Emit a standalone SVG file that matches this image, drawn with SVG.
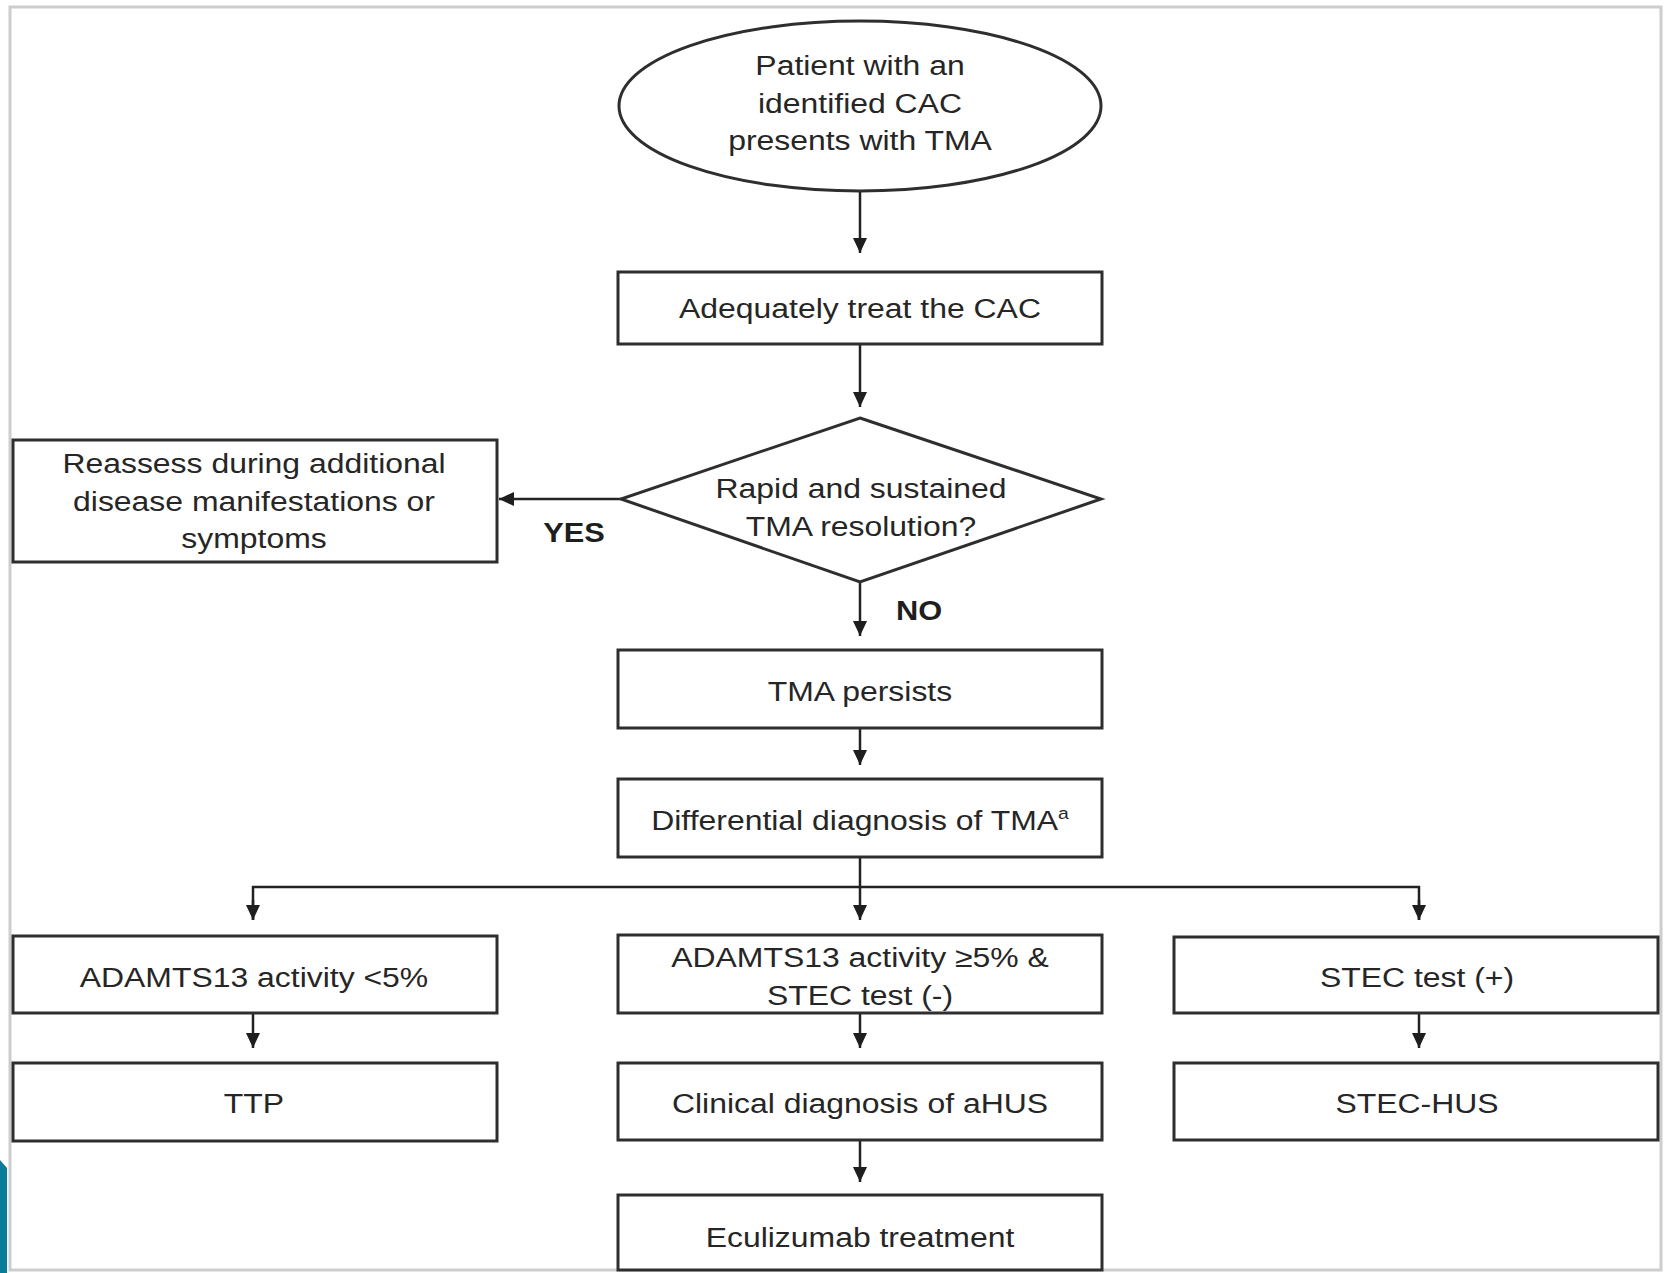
<svg xmlns="http://www.w3.org/2000/svg" width="1668" height="1273" viewBox="0 0 1668 1273">
<defs>
<style>
.box{fill:#fff;stroke:#2e2e2e;stroke-width:3}
.t{font-family:"Liberation Sans",Arial,sans-serif;font-size:28px;fill:#262626;text-anchor:middle}
.lbl{font-family:"Liberation Sans",Arial,sans-serif;font-size:27px;font-weight:bold;fill:#1e1e1e;text-anchor:middle}
.ln{fill:none;stroke:#222;stroke-width:2.5}
</style>
<marker id="ah" markerUnits="userSpaceOnUse" markerWidth="15" markerHeight="14" viewBox="0 0 15 14" refX="15" refY="7" orient="auto">
<path d="M0,0 L15,7 L0,14 z" fill="#1e1e1e"/>
</marker>
</defs>
<rect x="0" y="0" width="1668" height="1273" fill="#fff"/>
<rect x="10" y="7" width="1651" height="1263" fill="none" stroke="#cdcdcd" stroke-width="3"/>
<polygon points="0,1160 7,1168 7,1273 0,1273" fill="#0b7d99"/>

<g id="connectors">
<line class="ln" x1="860" y1="192" x2="860" y2="253" marker-end="url(#ah)"/>
<line class="ln" x1="860" y1="344" x2="860" y2="407" marker-end="url(#ah)"/>
<line class="ln" x1="621" y1="499" x2="499" y2="499" marker-end="url(#ah)"/>
<line class="ln" x1="860" y1="582" x2="860" y2="636" marker-end="url(#ah)"/>
<line class="ln" x1="860" y1="728" x2="860" y2="765" marker-end="url(#ah)"/>
<line class="ln" x1="860" y1="857" x2="860" y2="920" marker-end="url(#ah)"/>
<polyline class="ln" points="253,920 253,887 1419,887 1419,920"/>
<line class="ln" x1="253" y1="900" x2="253" y2="920" marker-end="url(#ah)"/>
<line class="ln" x1="1419" y1="900" x2="1419" y2="920" marker-end="url(#ah)"/>
<line class="ln" x1="253" y1="1013" x2="253" y2="1048" marker-end="url(#ah)"/>
<line class="ln" x1="860" y1="1013" x2="860" y2="1048" marker-end="url(#ah)"/>
<line class="ln" x1="1419" y1="1013" x2="1419" y2="1048" marker-end="url(#ah)"/>
<line class="ln" x1="860" y1="1140" x2="860" y2="1182" marker-end="url(#ah)"/>
<text class="lbl" transform="translate(574 0) scale(1.14 1)" x="0" y="542">YES</text>
<text class="lbl" transform="translate(919 0) scale(1.14 1)" x="0" y="620">NO</text>
</g>

<g id="start">
<ellipse class="box" cx="860" cy="106" rx="241" ry="85"/>
<g transform="translate(860 0) scale(1.14 1)">
<text class="t" x="0" y="75">Patient with an</text>
<text class="t" x="0" y="113">identified CAC</text>
<text class="t" x="0" y="150">presents with TMA</text>
</g>
</g>

<g id="treat">
<rect class="box" x="618" y="272" width="484" height="72"/>
<text class="t" transform="translate(860 0) scale(1.14 1)" x="0" y="318">Adequately treat the CAC</text>
</g>

<g id="decision">
<polygon class="box" points="860,418 1101,499 860,582 621,499"/>
<g transform="translate(861 0) scale(1.14 1)">
<text class="t" x="0" y="498">Rapid and sustained</text>
<text class="t" x="0" y="536">TMA resolution?</text>
</g>
</g>

<g id="reassess">
<rect class="box" x="13" y="440" width="484" height="122"/>
<g transform="translate(254 0) scale(1.14 1)">
<text class="t" x="0" y="473">Reassess during additional</text>
<text class="t" x="0" y="511">disease manifestations or</text>
<text class="t" x="0" y="548">symptoms</text>
</g>
</g>

<g id="persists">
<rect class="box" x="618" y="650" width="484" height="78"/>
<text class="t" transform="translate(860 0) scale(1.14 1)" x="0" y="701">TMA persists</text>
</g>

<g id="differential">
<rect class="box" x="618" y="779" width="484" height="78"/>
<text class="t" transform="translate(860 0) scale(1.14 1)" x="0" y="830">Differential diagnosis of TMA<tspan font-size="17" dy="-11">a</tspan></text>
</g>

<g id="adamts-low">
<rect class="box" x="13" y="936" width="484" height="77"/>
<text class="t" transform="translate(254 0) scale(1.14 1)" x="0" y="987">ADAMTS13 activity &lt;5%</text>
</g>

<g id="adamts-high">
<rect class="box" x="618" y="935" width="484" height="78"/>
<g transform="translate(860 0) scale(1.14 1)">
<text class="t" x="0" y="967">ADAMTS13 activity ≥5% &amp;</text>
<text class="t" x="0" y="1005">STEC test (-)</text>
</g>
</g>

<g id="stec-pos">
<rect class="box" x="1174" y="937" width="484" height="76"/>
<text class="t" transform="translate(1417 0) scale(1.14 1)" x="0" y="987">STEC test (+)</text>
</g>

<g id="ttp">
<rect class="box" x="13" y="1063" width="484" height="78"/>
<text class="t" transform="translate(254 0) scale(1.14 1)" x="0" y="1113">TTP</text>
</g>

<g id="ahus">
<rect class="box" x="618" y="1063" width="484" height="77"/>
<text class="t" transform="translate(860 0) scale(1.14 1)" x="0" y="1113">Clinical diagnosis of aHUS</text>
</g>

<g id="stec-hus">
<rect class="box" x="1174" y="1063" width="484" height="77"/>
<text class="t" transform="translate(1417 0) scale(1.14 1)" x="0" y="1113">STEC-HUS</text>
</g>

<g id="eculizumab">
<rect class="box" x="618" y="1195" width="484" height="75"/>
<text class="t" transform="translate(860 0) scale(1.14 1)" x="0" y="1247">Eculizumab treatment</text>
</g>
</svg>
